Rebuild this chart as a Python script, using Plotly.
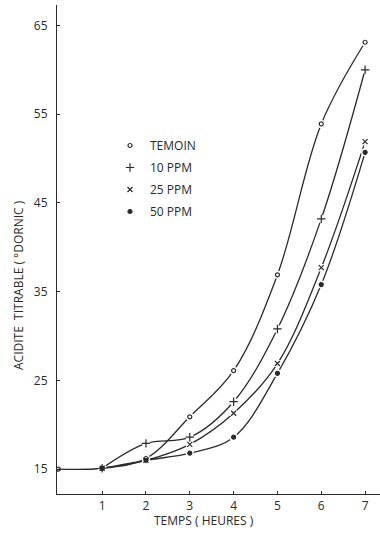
import plotly.graph_objects as go

hours = [0, 1, 2, 3, 4, 5, 6, 7]
temoin = [15.0, 15.1, 16.2, 20.9, 26.1, 36.9, 53.9, 63.1]
hours_t = [1, 2, 3, 4, 5, 6, 7]
ppm10 = [15.1, 17.9, 18.6, 22.6, 30.8, 43.2, 60.0]
ppm25 = [15.1, 16.0, 17.8, 21.3, 26.9, 37.7, 51.9]
ppm50 = [15.1, 16.0, 16.8, 18.6, 25.8, 35.8, 50.7]

series = [
    ("TEMOIN", hours, temoin, "circle-open", 4),
    ("10 PPM", hours_t, ppm10, "cross-thin-open", 6),
    ("25 PPM", hours_t, ppm25, "x-thin-open", 5),
    ("50 PPM", hours_t, ppm50, "circle", 4),
]

ink = "#2a2a2a"
font = "Open Sans"

fig = go.Figure()
for name, xs, ys, sym, sz in series:
    fig.add_trace(go.Scatter(x=xs, y=ys, mode="lines", showlegend=False,
                             line=dict(color=ink, width=1.3, shape="spline", smoothing=1.0),
                             hoverinfo="skip"))
for name, xs, ys, sym, sz in series:
    hx = xs[1:] if name == "TEMOIN" else xs
    hy = ys[1:] if name == "TEMOIN" else ys
    fig.add_trace(go.Scatter(x=hx, y=hy, mode="markers", showlegend=False,
                             marker=dict(symbol="circle", size=8, color="white"),
                             hoverinfo="skip"))
for i, (name, xs, ys, sym, sz) in enumerate(series):
    fig.add_trace(go.Scatter(x=xs, y=ys, mode="markers", name=name, showlegend=True,
                             legendgroup=f"g{i}",
                             marker=dict(symbol=sym, size=sz, color=ink,
                                         line=dict(color=ink, width=1.2))))

fig.update_layout(
    width=380, height=533,
    margin=dict(l=57, r=0, t=5, b=39),
    paper_bgcolor="white", plot_bgcolor="white",
    font=dict(family=font, color=ink, size=12),
    legend=dict(x=(110 - 57) / 323, y=(494 - 131) / 489, xanchor="left", yanchor="top",
                bgcolor="rgba(0,0,0,0)", font=dict(size=12, family=font, color=ink),
                itemwidth=30, tracegroupgap=3),
    annotations=[
        dict(text="ACIDITE  TITRABLE ( °DORNIC )", textangle=-90, xref="paper", yref="paper",
             x=(18 - 57) / 323, y=(494 - 285) / 489, showarrow=False,
             font=dict(size=12, family=font, color=ink), xanchor="center", yanchor="middle"),
        dict(text="TEMPS ( HEURES )", xref="paper", yref="paper",
             x=(204 - 57) / 323, y=-(520 - 494) / 489, showarrow=False,
             font=dict(size=12, family=font, color=ink), xanchor="center", yanchor="middle"),
    ],
)
fig.update_xaxes(range=[-0.03, 7.34], tickvals=[1, 2, 3, 4, 5, 6, 7], ticks="inside", ticklen=3,
                 tickcolor=ink, showline=True, linecolor=ink, linewidth=1.2, showgrid=False,
                 zeroline=False, tickfont=dict(size=12), automargin=False)
fig.update_yaxes(range=[12.2, 67.3], tickvals=[15, 25, 35, 45, 55, 65], ticks="inside", ticklen=3,
                 tickcolor=ink, showline=True, linecolor=ink, linewidth=1.2, showgrid=False,
                 zeroline=False, tickfont=dict(size=12), ticklabelstandoff=6, automargin=False)

fig.write_html("out.html", config={"displayModeBar": False},
               post_script="document.body.style.margin='0';document.body.style.overflow='hidden';")
